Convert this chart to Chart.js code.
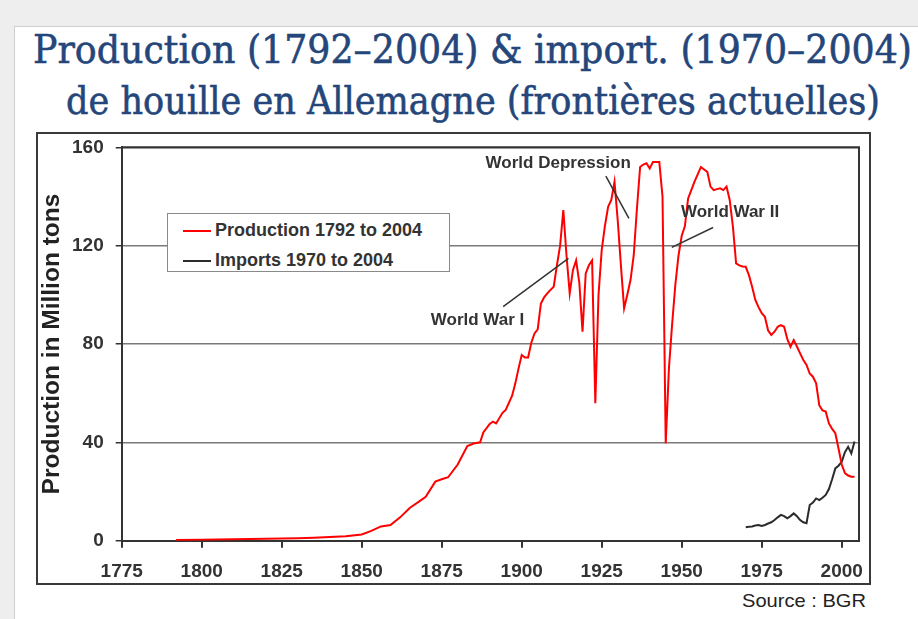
<!DOCTYPE html>
<html>
<head>
<meta charset="utf-8">
<script src="https://cdn.jsdelivr.net/npm/chart.js@4.4.1/dist/chart.umd.min.js"></script>
<style>
  html, body { margin: 0; padding: 0; }
  body { width: 918px; height: 619px; background: #eeeeee; position: relative; overflow: hidden; }
  #panel { position: absolute; left: 14px; top: 26px; width: 920px; height: 620px; background: #fff; border: 1px solid #cfcfcf; }
  .title { position: absolute; left: 0; width: 918px; height: 50px; font-family: "DejaVu Serif", serif; font-size: 40px; color: #24467a; white-space: nowrap; -webkit-text-stroke: 0.6px #24467a; }
  .title span { position: absolute; top: 0; left: 0; transform-origin: left top; }
  #frame { position: absolute; left: 36px; top: 132px; width: 831px; height: 449px; border: 2px solid #3a3a3a; background: #fff; }
  #frame canvas { display: block; }
  #legend { position: absolute; left: 167px; top: 213px; width: 281px; height: 57px; border: 1.5px solid #8a8a8a; background: #fff;
            font-family: "Liberation Sans", Arial, sans-serif; font-weight: bold; font-size: 18px; color: #333; }
  #legend div { position: absolute; left: 15px; height: 20px; line-height: 20px; white-space: nowrap; }
  #legend i { display: inline-block; width: 28px; height: 0; border-top: 2px solid; vertical-align: middle; margin-right: 4px; }
  #source { position: absolute; left: 742px; top: 590px; font-family: "Liberation Sans", Arial, sans-serif; font-size: 19px; color: #222; white-space: nowrap; transform-origin: left center; }
</style>
</head>
<body>
<div id="panel"></div>
<div class="title" id="t1" style="top: 26px;"><span>Production (1792–2004) &amp; import. (1970–2004)</span></div>
<div class="title" id="t2" style="top: 77px;"><span>de houille en Allemagne (frontières actuelles)</span></div>
<div id="frame"><canvas id="myChart" width="831" height="449"></canvas></div>
<div id="legend"></div>
<div id="source">Source : BGR</div>
<script>
// production of hard coal, million tons
const productionYears = [
  1792, 1800, 1805, 1810, 1815, 1820, 1825, 1830, 1835, 1840, 1845, 1850, 1853, 1856, 1859,
  1862, 1865, 1868, 1870, 1873, 1875, 1877, 1880, 1883, 1885, 1887, 1888, 1890, 1891, 1892,
  1894, 1895, 1897, 1898, 1899, 1900, 1901, 1902, 1903, 1904, 1905, 1906, 1907, 1908, 1909,
  1910, 1911, 1912, 1913, 1914, 1915, 1916, 1917, 1918, 1919, 1920, 1921, 1922, 1923, 1924,
  1925, 1926, 1927, 1928, 1929, 1930, 1931, 1932, 1933, 1934, 1935, 1936, 1937, 1938, 1939,
  1940, 1941, 1942, 1943, 1944, 1945, 1946, 1947, 1948, 1949, 1950, 1951, 1952, 1953, 1954,
  1955, 1956, 1957, 1958, 1959, 1960, 1961, 1962, 1963, 1964, 1965, 1966, 1967, 1968, 1969,
  1970, 1971, 1972, 1973, 1974, 1975, 1976, 1977, 1978, 1979, 1980, 1981, 1982, 1983, 1984,
  1985, 1986, 1987, 1988, 1989, 1990, 1991, 1992, 1993, 1994, 1995, 1996, 1997, 1998, 1999,
  2000, 2001, 2002, 2003, 2004
];
const productionValues = [
  0.3, 0.4, 0.5, 0.6, 0.7, 0.8, 0.9, 1.0, 1.2, 1.5, 1.8, 2.5, 4, 5.8, 6.4,
  9.5, 13.3, 16, 17.9, 24, 25, 25.8, 31, 38.5, 39.5, 40, 44, 47.5, 48.4, 47.7,
  52, 53.2, 59, 64, 70, 75.5, 74.5, 74.5, 80.5, 84.3, 86, 96.5, 99, 100.6, 102,
  103.3, 112, 120, 134.5, 116, 100.6, 110, 114, 105, 85, 108.7, 112, 114, 55.9, 100,
  118.2, 128, 135.8, 138.6, 146, 130.4, 112, 94.5, 100, 106, 116, 135, 152, 153, 153.5,
  151.4, 154, 154, 154, 140, 39.6, 70, 88, 104, 116, 124, 128, 139.2, 142.6, 146,
  149, 152, 151, 150, 144, 142.6, 143, 143.3, 142.6, 144, 138.6, 127.7, 112.8, 112, 111.5,
  111.4, 108, 103.3, 97.9, 95, 92.5, 91.1, 85.5, 83.7, 85, 87, 87.7, 87, 82, 78.9,
  81.6, 79, 76.2, 73.5, 71.5, 68, 66.7, 64, 55, 53, 52.5, 47.7, 45.5, 43.7, 37.5,
  31, 27.5, 26.5, 26, 26
];

// imports, million tons
const importYears = [
  1970, 1971, 1972, 1973, 1974, 1975, 1976, 1977, 1978, 1979, 1980, 1981, 1982, 1983, 1984,
  1985, 1986, 1987, 1988, 1989, 1990, 1991, 1992, 1993, 1994, 1995, 1996, 1997, 1998, 1999,
  2000, 2001, 2002, 2003, 2004
];
const importValues = [
  5.5, 5.7, 5.8, 6.2, 6.4, 6, 6.4, 7, 7.5, 8.4, 9.5, 10.5, 10, 9.1, 10,
  11.1, 10, 8.4, 7.5, 7.1, 14.5, 15.5, 17.2, 16.5, 17.5, 18.6, 21, 25, 29.4, 30.5,
  32.1, 36, 38.2, 35.5, 40.3
];

const seriesLabels = ['Production 1792 to 2004', 'Imports 1970 to 2004'];
const yTicks = [0, 40, 80, 120, 160];
const xTicks = [1775, 1800, 1825, 1850, 1875, 1900, 1925, 1950, 1975, 2000];

// event labels, anchored in data coordinates (year, million tons)
const events = [
  { text: 'World Depression', at: [1911.4, 153.5], from: [1926.3, 148.3], to: [1933.5, 131.1] },
  { text: 'World War II', at: [1965.1, 133.4], from: [1959.8, 127.4], to: [1946.9, 119.3] },
  { text: 'World War I', at: [1886.2, 89.7], from: [1894.2, 95.2], to: [1914.6, 114.8] }
];

const toPoints = (xs, ys) => xs.map((x, i) => ({ x: x, y: ys[i] }));

const frameLines = {
  id: 'frameLines',
  beforeDatasetsDraw(chart) {
    const a = chart.chartArea, ctx = chart.ctx;
    ctx.save();
    ctx.strokeStyle = '#333';
    ctx.lineWidth = 2;
    ctx.beginPath();
    ctx.moveTo(a.left, a.top);
    ctx.lineTo(a.right, a.top);
    ctx.lineTo(a.right, a.bottom);
    ctx.stroke();
    ctx.restore();
  }
};

const eventLabels = {
  id: 'eventLabels',
  afterDatasetsDraw(chart) {
    const ctx = chart.ctx, sx = chart.scales.x, sy = chart.scales.y;
    ctx.save();
    ctx.font = 'bold 17px "Liberation Sans", Arial, sans-serif';
    ctx.fillStyle = '#333';
    ctx.strokeStyle = '#333';
    ctx.lineWidth = 1.5;
    ctx.textAlign = 'center';
    ctx.textBaseline = 'middle';
    events.forEach(ev => {
      ctx.fillText(ev.text, sx.getPixelForValue(ev.at[0]), sy.getPixelForValue(ev.at[1]));
      ctx.beginPath();
      ctx.moveTo(sx.getPixelForValue(ev.from[0]), sy.getPixelForValue(ev.from[1]));
      ctx.lineTo(sx.getPixelForValue(ev.to[0]), sy.getPixelForValue(ev.to[1]));
      ctx.stroke();
    });
    ctx.restore();
  }
};

const ctx = document.getElementById('myChart').getContext('2d');
const myChart = new Chart(ctx, {
  type: 'line',
  data: {
    datasets: [{
      label: seriesLabels[0],
      data: toPoints(productionYears, productionValues),
      borderColor: '#ff0000',
      borderWidth: 2,
      pointRadius: 0,
      tension: 0
    }, {
      label: seriesLabels[1],
      data: toPoints(importYears, importValues),
      borderColor: '#2b2b2b',
      borderWidth: 2,
      pointRadius: 0,
      tension: 0
    }]
  },
  options: {
    responsive: false,
    animation: false,
    layout: { padding: { top: 13.3, right: 10, left: 0, bottom: 0 } },
    plugins: { legend: { display: false }, tooltip: { enabled: false } },
    scales: {
      x: {
        type: 'linear',
        min: 1775,
        max: 2005.4,
        afterBuildTicks: axis => { axis.ticks = xTicks.map(v => ({ value: v })); },
        afterFit: axis => { axis.height = 42.3; axis.paddingLeft = 0; axis.paddingRight = 0; },
        ticks: {
          color: '#333',
          padding: 13,
          maxRotation: 0,
          font: { family: '"Liberation Sans", Arial, sans-serif', size: 19, weight: 'bold' },
          callback: v => String(v)
        },
        grid: { drawOnChartArea: false, tickLength: 7, tickColor: '#333', lineWidth: 2 },
        border: { color: '#333', width: 2 }
      },
      y: {
        min: 0,
        max: 160,
        afterBuildTicks: axis => { axis.ticks = yTicks.map(v => ({ value: v })); },
        afterFit: axis => { axis.width = 83.7; axis.paddingTop = 0; axis.paddingBottom = 0; },
        ticks: {
          color: '#333',
          padding: 12,
          font: { family: '"Liberation Sans", Arial, sans-serif', size: 19, weight: 'bold' }
        },
        grid: { color: '#7a7a7a', lineWidth: 1.5, tickLength: 6, tickColor: '#333' },
        border: { color: '#333', width: 2 },
        title: {
          display: true,
          text: 'Production in Million tons',
          color: '#222',
          padding: 0,
          font: { family: '"Liberation Sans", Arial, sans-serif', size: 24.5, weight: 'bold' }
        }
      }
    }
  },
  plugins: [frameLines, eventLabels]
});

// legend built from the datasets
const legendEl = document.getElementById('legend');
myChart.data.datasets.forEach((ds, i) => {
  const row = document.createElement('div');
  row.style.top = (i === 0 ? 6 : 36) + 'px';
  row.innerHTML = '<i style="border-color:' + ds.borderColor + '"></i>' + ds.label;
  legendEl.appendChild(row);
});

// squeeze the text lines to the width and place of the original
function fitBox(el, left, width) {
  const w = el.getBoundingClientRect().width;
  el.style.left = left + 'px';
  el.style.transform = 'scaleX(' + (width / w) + ')';
}
fitBox(document.querySelector('#t1 span'), 33, 879);
fitBox(document.querySelector('#t2 span'), 66, 814);
const src = document.getElementById('source');
src.style.transform = 'scaleX(' + (124 / src.getBoundingClientRect().width) + ')';
</script>
</body>
</html>
